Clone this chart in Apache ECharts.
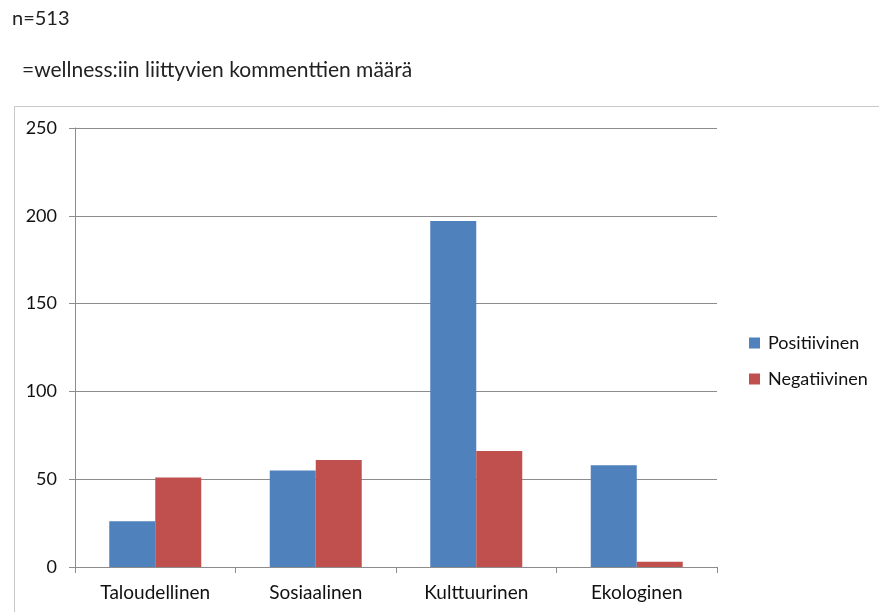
<!DOCTYPE html>
<html>
<head>
<meta charset="utf-8">
<script src="https://cdn.jsdelivr.net/npm/echarts@6/dist/echarts.min.js"></script>
<style>
  html, body { margin: 0; padding: 0; background: #fff; }
  #chart { width: 879px; height: 612px; }
</style>
</head>
<body>
<div id="chart"></div>
<script>
// Comment counts per wellness dimension
const categories = ['Taloudellinen', 'Sosiaalinen', 'Kulttuurinen', 'Ekologinen'];
const positiveValues = [26, 55, 197, 58];
const negativeValues = [51, 61, 66, 3];
const seriesNames = ['Positiivinen', 'Negatiivinen'];
const yTicks = { min: 0, max: 250, interval: 50 };

const FONT = 'Lato, "Open Sans", sans-serif';
const chart = echarts.init(document.getElementById('chart'));

chart.setOption({
  backgroundColor: '#ffffff',
  animation: false,
  title: [
    { text: 'n=513', left: 12, top: 9, padding: 0,
      textStyle: { fontFamily: FONT, fontSize: 20, fontWeight: 'normal', color: '#222' } },
    { text: '=wellness:iin liittyvien kommenttien määrä', left: 22, top: 60, padding: 0,
      textStyle: { fontFamily: FONT, fontSize: 21, fontWeight: 'normal', color: '#222' } }
  ],
  graphic: [
    { type: 'rect', left: 12, top: 104, z: -1,
      shape: { width: 900, height: 540 },
      style: { fill: 'none', stroke: '#c8c8c8', lineWidth: 1 } }
  ],
  legend: {
    orient: 'vertical',
    left: 749,
    top: 334,
    padding: 0,
    itemWidth: 11,
    itemHeight: 11,
    itemGap: 18,
    icon: 'rect',
    data: seriesNames,
    textStyle: { fontFamily: FONT, fontSize: 18, lineHeight: 18, color: '#111', padding: [0, 0, 0, 3] }
  },
  grid: { left: 75, right: 162, top: 128, bottom: 45, containLabel: false },
  xAxis: {
    type: 'category',
    data: categories,
    axisLine: { lineStyle: { color: '#8c8c8c', width: 1 } },
    axisTick: { show: true, alignWithLabel: false, length: 6, lineStyle: { color: '#8c8c8c' } },
    axisLabel: { fontFamily: FONT, fontSize: 19, color: '#111', margin: 16 }
  },
  yAxis: {
    type: 'value',
    min: yTicks.min,
    max: yTicks.max,
    interval: yTicks.interval,
    axisLine: { show: true, lineStyle: { color: '#8c8c8c', width: 1 } },
    axisTick: { show: true, length: 6, lineStyle: { color: '#8c8c8c' } },
    axisLabel: { fontFamily: FONT, fontSize: 18, color: '#111', margin: 18 },
    splitLine: { lineStyle: { color: '#8c8c8c', width: 1 } }
  },
  series: [
    { name: seriesNames[0], type: 'bar', data: positiveValues,
      barWidth: 46, barGap: '0%',
      itemStyle: { color: '#4F81BD' } },
    { name: seriesNames[1], type: 'bar', data: negativeValues,
      barWidth: 46, barGap: '0%',
      itemStyle: { color: '#C0504D' } }
  ]
});
</script>
</body>
</html>
